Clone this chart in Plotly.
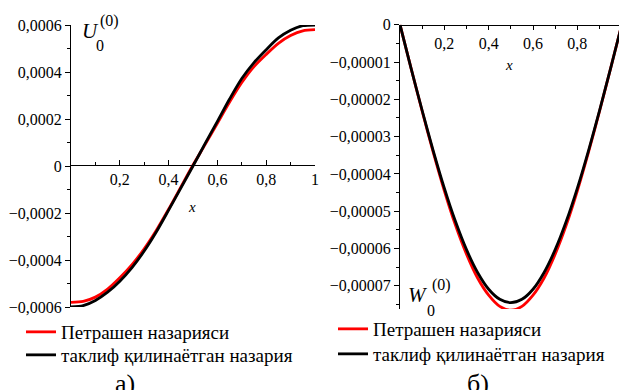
import plotly.graph_objects as go

# ---------------- data ----------------
x_vals = [0.0, 0.05, 0.1, 0.15, 0.2, 0.25, 0.3, 0.35, 0.4, 0.45, 0.5,
          0.55, 0.6, 0.65, 0.7, 0.75, 0.8, 0.85, 0.9, 0.95, 1.0]

u_petrashen = [-0.000580, -0.000576, -0.000558, -0.000524, -0.000476, -0.000420,
               -0.000352, -0.000273, -0.000184, -0.000090, 0.000004,
               0.000092, 0.000182, 0.000272, 0.000355, 0.000423, 0.000475,
               0.000522, 0.000555, 0.000575, 0.000580]
u_proposed = [-0.000600, -0.000594, -0.000572, -0.000537, -0.000490, -0.000432,
              -0.000362, -0.000280, -0.000188, -0.000094, 0.000000,
              0.000096, 0.000190, 0.000285, 0.000372, 0.000440, 0.000495,
              0.000545, 0.000578, 0.000597, 0.000600]

w_petrashen = [0.0, -0.0000117, -0.0000232, -0.0000342, -0.0000445, -0.0000537,
               -0.0000615, -0.0000679, -0.0000725, -0.0000755, -0.0000765,
               -0.0000755, -0.0000725, -0.0000679, -0.0000615, -0.0000537,
               -0.0000445, -0.0000342, -0.0000232, -0.0000117, 0.0]
w_proposed = [0.0, -0.0000117, -0.0000230, -0.0000338, -0.0000438, -0.0000527,
              -0.0000603, -0.0000664, -0.0000709, -0.0000736, -0.0000745,
              -0.0000736, -0.0000709, -0.0000664, -0.0000603, -0.0000527,
              -0.0000438, -0.0000338, -0.0000230, -0.0000117, 0.0]

series_names = ["Петрашен назарияси", "таклиф қилинаётган назария"]
series_colors = ["#ff0000", "#000000"]

u_tickvals = [-0.0006, -0.0004, -0.0002, 0, 0.0002, 0.0004, 0.0006]
u_ticktext = ["−0,0006", "−0,0004", "−0,0002", "0", "0,0002", "0,0004", "0,0006"]
u_minor = [-0.0005, -0.0003, -0.0001, 0.0001, 0.0003, 0.0005]

w_tickvals = [-0.00007, -0.00006, -0.00005, -0.00004, -0.00003, -0.00002, -0.00001, 0]
w_ticktext = ["−0,00007", "−0,00006", "−0,00005", "−0,00004", "−0,00003",
              "−0,00002", "−0,00001", "0"]
w_minor = [-0.000075, -0.000065, -0.000055, -0.000045, -0.000035, -0.000025,
           -0.000015, -0.000005]

x_tickvals_left = [0.2, 0.4, 0.6, 0.8, 1.0]
x_ticktext_left = ["0,2", "0,4", "0,6", "0,8", "1"]
x_tickvals_right = [0.2, 0.4, 0.6, 0.8]
x_ticktext_right = ["0,2", "0,4", "0,6", "0,8"]
x_minor = [0.1, 0.3, 0.5, 0.7, 0.9]

# ---------------- figure ----------------
W, H = 619, 390
FONT = "Liberation Serif, Times New Roman, serif"


def px_x(p):
    return p / W


def px_y(p):
    return 1 - p / H


fig = go.Figure()

# one legend per entry so the row spacing can match the reference
legend_ids = [["legend", "legend2"], ["legend3", "legend4"]]
panels = [("x", "y", [u_petrashen, u_proposed]), ("x2", "y2", [w_petrashen, w_proposed])]
for p, (xa, ya, series) in enumerate(panels):
    for i, (name, color, ys) in enumerate(zip(series_names, series_colors, series)):
        fig.add_trace(go.Scatter(x=x_vals, y=ys, mode="lines", name=name,
                                 line=dict(color=color, width=2.8, shape="spline", smoothing=0.8),
                                 xaxis=xa, yaxis=ya, legend=legend_ids[p][i]))

tickfont = dict(family=FONT, size=16, color="black")
common_axis = dict(showgrid=False, zeroline=False, showline=True, linecolor="black",
                   linewidth=1, automargin=False, tickmode="array", tickcolor="black",
                   tickfont=tickfont, fixedrange=True)


def legend_at(left_px, row_center_px):
    return dict(x=px_x(left_px), y=px_y(row_center_px - 17), xanchor="left", yanchor="top",
                font=dict(family=FONT, size=19, color="black"),
                bgcolor="rgba(0,0,0,0)", borderwidth=0, itemwidth=30)


fig.update_layout(
    template="none",
    width=W, height=H, autosize=False,
    margin=dict(l=0, r=0, t=0, b=0, pad=0, autoexpand=False),
    paper_bgcolor="white", plot_bgcolor="white",
    font=dict(family=FONT, color="black"),
    showlegend=True,
    xaxis=dict(domain=[px_x(71), px_x(315)], range=[0, 1],
               anchor="free", position=px_y(165),
               tickvals=x_tickvals_left, ticktext=x_ticktext_left,
               ticks="inside", ticklen=5,
               minor=dict(tickmode="array", tickvals=x_minor, ticks="inside", ticklen=3,
                          tickcolor="black"), **common_axis),
    yaxis=dict(domain=[px_y(307), px_y(25)], range=[-0.0006, 0.0006],
               anchor="x",
               tickvals=u_tickvals, ticktext=u_ticktext,
               ticks="outside", ticklen=5,
               minor=dict(tickmode="array", tickvals=u_minor, ticks="outside", ticklen=3,
                          tickcolor="black"), **common_axis),
    xaxis2=dict(domain=[px_x(400), 1], range=[0, 219 / 221.7],
                anchor="free", position=px_y(24.7),
                tickvals=x_tickvals_right, ticktext=x_ticktext_right,
                ticks="outside", ticklen=4,
                minor=dict(tickmode="array", tickvals=x_minor, ticks="outside", ticklen=3,
                           tickcolor="black"), **common_axis),
    yaxis2=dict(domain=[px_y(309), px_y(24.7)], range=[-0.0000762, 0],
                anchor="x2",
                tickvals=w_tickvals, ticktext=w_ticktext,
                ticks="outside", ticklen=5,
                minor=dict(tickmode="array", tickvals=w_minor, ticks="outside", ticklen=3,
                           tickcolor="black"), **common_axis),
    legend=legend_at(21, 330),
    legend2=legend_at(21, 353),
    legend3=legend_at(333, 327),
    legend4=legend_at(333, 352),
)

annotations = [
    # axis variable names
    dict(text="<i>x</i>", x=px_x(192), y=px_y(207), font=dict(family=FONT, size=15)),
    dict(text="<i>x</i>", x=px_x(509), y=px_y(65), font=dict(family=FONT, size=15)),
    # U_0^(0)
    dict(text="<i>U</i>", x=px_x(90), y=px_y(31), font=dict(family=FONT, size=21)),
    dict(text="0", x=px_x(100), y=px_y(45), font=dict(family=FONT, size=16)),
    dict(text="(0)", x=px_x(109), y=px_y(21), font=dict(family=FONT, size=16)),
    # W_0^(0)
    dict(text="<i>W</i>", x=px_x(418), y=px_y(295), font=dict(family=FONT, size=21)),
    dict(text="0", x=px_x(431), y=px_y(310), font=dict(family=FONT, size=16)),
    dict(text="(0)", x=px_x(441), y=px_y(285), font=dict(family=FONT, size=16)),
    # panel captions
    dict(text="а)", x=px_x(125), y=px_y(383), font=dict(family=FONT, size=26)),
    dict(text="б)", x=px_x(478), y=px_y(383), font=dict(family=FONT, size=26)),
]
for a in annotations:
    a.update(xref="paper", yref="paper", showarrow=False, xanchor="center", yanchor="middle")
    a["font"]["color"] = "black"
fig.update_layout(annotations=annotations)

fig.write_html("out.html", config={"displayModeBar": False},
               post_script="document.body.style.margin='0px';"
                           "document.body.style.overflow='hidden';")
